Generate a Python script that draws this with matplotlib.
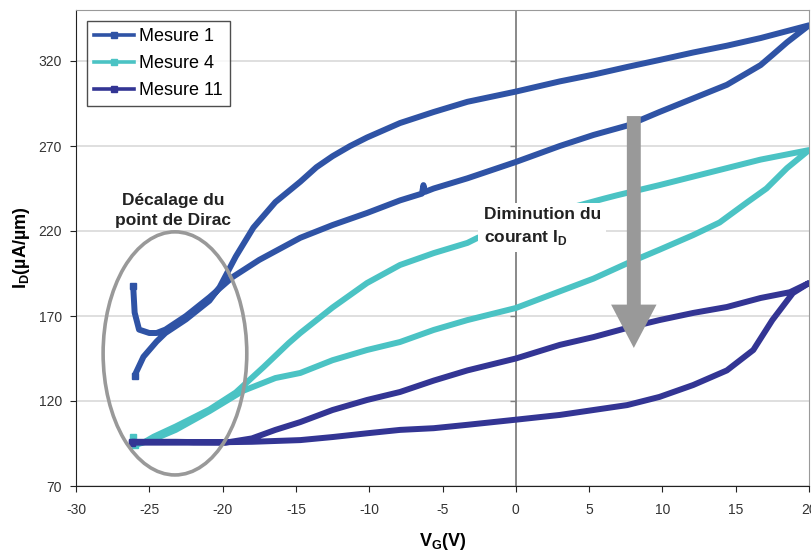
import matplotlib.pyplot as plt
import numpy as np
from matplotlib.patches import Ellipse, FancyArrow
from matplotlib.lines import Line2D

plt.rcParams.update({
    "font.family": ["Liberation Sans", "DejaVu Sans"],
    "mathtext.fontset": "custom",
    "mathtext.rm": "Liberation Sans:bold",
    "mathtext.bf": "Liberation Sans:bold",
    "axes.unicode_minus": False,
})

# --- data (VG in V, ID in uA/um) ---
vg_m1 = [-26.0, -25.4, -24.5, -23.9, -22.5, -20.9, -20.2, -19.1, -17.9, -16.4, -14.7, -13.6, -12.5,
         -11.3, -10.15, -7.9, -5.6, -3.3, 0.0, 3.0, 5.3, 7.6, 9.8, 12.1, 14.4, 16.7, 20.0,
         18.5, 17.5, 16.7, 14.4, 12.1, 9.8, 7.6, 5.3, 3.0, 0.0, -3.3, -5.6, -6.2, -6.3, -6.4,
         -7.9, -10.15, -12.5, -14.7, -17.5, -19.3, -20.9, -22.5, -23.9, -24.5, -25.0, -25.7, -26.0, -26.1]
id_m1 = [135, 146, 155, 160, 168, 179, 187, 205, 222, 237, 249, 257.5, 264,
         270, 275, 283.5, 290, 296, 302, 308, 312, 316.5, 320.6, 325, 329, 333.5, 341,
         331, 323.5, 317.6, 306, 298, 290, 282, 276.5, 270, 260.6, 251, 245, 243, 247, 242,
         238, 230.6, 223.5, 216, 203, 193, 181, 170, 162, 160, 160, 162, 172, 187.6]

vg_m4 = [-26.1, -26.0, -25.3, -24.7, -23.2, -20.9, -19.1, -17.2, -15.5, -14.7, -12.5, -10.15,
         -7.9, -5.6, -3.3, -2.6, 0.0, 3.0, 6.0, 6.9, 9.8, 12.1, 14.4, 16.7, 20.0,
         18.5, 17.1, 15.8, 13.9, 12.1, 9.8, 7.6, 5.3, 3.0, 0.0, -3.3, -5.6, -7.9, -10.15,
         -12.5, -14.7, -16.4, -18.6, -20.9, -23.2, -24.7, -26.0]
id_m4 = [99, 95, 96, 99, 105, 115, 125, 140, 154, 160, 175, 189.4,
         200, 207, 213, 216, 224, 232, 239, 241, 247, 252, 257, 262, 267.6,
         257, 245, 237, 225, 217.6, 209, 201, 192, 184.5, 174.7, 167.6, 161.8, 154.7, 150,
         144, 136.5, 133.5, 126, 114, 103, 97.5, 94]

vg_m11 = [-26.2, -23.2, -19.8, -18.0, -16.4, -14.7, -12.5, -10.15, -7.9, -5.6, -3.3, 0.0,
          3.0, 5.3, 7.6, 9.8, 12.1, 14.4, 16.7, 18.7, 20.0,
          18.9, 17.5, 16.2, 14.4, 12.1, 9.8, 7.6, 5.3, 3.0, 0.0, -3.3, -5.6, -7.9, -10.15,
          -12.5, -14.7, -18.0, -22.0, -26.2]
id_m11 = [96, 96, 95.5, 98, 103, 107.6, 114.7, 120.6, 125.3, 132, 138, 145,
          153, 157.6, 163, 167.6, 171.8, 175.3, 180.6, 184, 189.4,
          183.5, 167.6, 150, 138, 129.4, 122.4, 117.6, 114.7, 111.8, 109, 106, 104, 103, 101,
          98.8, 97, 96, 95.5, 95.5]

labels = ["Mesure 1", "Mesure 4", "Mesure 11"]
colors = ["#2F53A5", "#4BC3C4", "#333594"]
xticks = np.arange(-30, 21, 5)
yticks = np.arange(70, 321, 50)

fig = plt.figure(figsize=(8.11, 5.51), dpi=100)
ax = fig.add_axes([76/811, 65/551, 733/811, 476/551])

series = [(vg_m1, id_m1), (vg_m4, id_m4), (vg_m11, id_m11)]
for (x, y), c in zip(series, colors):
    ax.plot(x, y, c=c, lw=4.3, marker='s', ms=5, markevery=[0, -1], zorder=4,
            solid_joinstyle='round', solid_capstyle='butt')

ax.set_xlim(-30, 20)
ax.set_ylim(70, 350)
ax.set_xticks(xticks)
ax.set_yticks(yticks)
ax.grid(axis='y', c='#d9d9d9', lw=1.2, zorder=0)
ax.axvline(0, c='#808080', lw=1.3, zorder=2)
ax.plot(np.zeros(len(yticks) - 1), yticks[1:], ls='', marker=0, ms=4, c='#808080', mew=1, zorder=2)

for s in ['top', 'right']:
    ax.spines[s].set_color('#9a9a9a')
for s in ['left', 'bottom']:
    ax.spines[s].set_color('#222222')
ax.tick_params(length=4, width=0.8, colors='#222222', labelsize=10, labelcolor='#333333')
ax.tick_params(axis='y', direction='out', pad=6)
ax.tick_params(axis='x', direction='out', pad=8)
for lab in ax.get_xticklabels() + ax.get_yticklabels():
    lab.set_family(["Liberation Sans Narrow", "Liberation Sans", "DejaVu Sans"])

ax.set_xlabel(r"V$_\mathregular{G}$(V)", fontsize=13, fontweight='bold', labelpad=10)
ax.set_ylabel(r"I$_\mathregular{D}$(µA/µm)", fontsize=13, fontweight='bold', labelpad=5)

# annotations
ax.add_patch(Ellipse((-23.25, 148), 9.8, 143, fill=False, ec='#999999', lw=2.6, zorder=5))
ax.text(-23.4, 222, "Décalage du\npoint de Dirac", ha='center', va='bottom', fontsize=12.5,
        fontweight='bold', color='#222222', linespacing=1.35, zorder=6)
ax.add_patch(FancyArrow(8.05, 287.6, 0, -136.4, width=0.95, head_width=3.1, head_length=25.5,
                        length_includes_head=True, fc='#999999', ec='none', zorder=6))
ax.text(-2.2, 222.5, "Diminution du\ncourant I$_\\mathregular{D}$", ha='left', va='center',
        fontsize=12.5, fontweight='bold', color='#222222', linespacing=1.4, zorder=5,
        bbox=dict(fc='white', ec='none', pad=4))

handles = [Line2D([], [], c=c, lw=2.6, marker='s', ms=5) for c in colors]
leg = ax.legend(handles, labels, loc='upper left', bbox_to_anchor=(0.015, 0.977), fontsize=13,
                frameon=True, fancybox=False, edgecolor='#222222', handlelength=2.2,
                handletextpad=0.3, borderpad=0.4, labelspacing=0.55, borderaxespad=0)
leg.get_frame().set_linewidth(1)
leg.set_zorder(7)

fig.savefig("out.png", dpi=100)
